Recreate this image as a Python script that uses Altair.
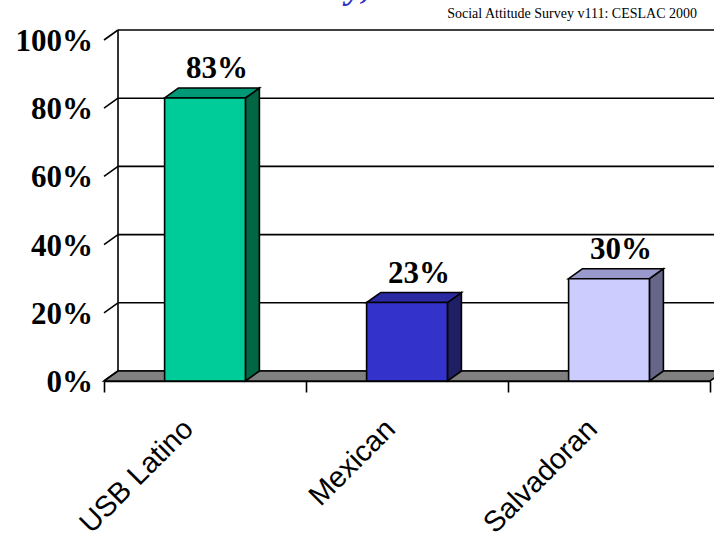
import altair as alt
import pandas as pd

# ---- data ----
categories = ["USB Latino", "Mexican", "Salvadoran"]
values = [83, 23, 30]
value_labels = ["83%", "23%", "30%"]
y_ticks = [0, 20, 40, 60, 80, 100]
y_tick_labels = ["0%", "20%", "40%", "60%", "80%", "100%"]
title_text = "Ethnicity,"
subtitle_text = "Social Attitude Survey v111: CESLAC 2000"

# ---- styles ----
front_colors = ["#00CC99", "#3333CC", "#CCCCFF"]
top_colors = ["#009977", "#2A2AA3", "#9999CC"]
side_colors = ["#006644", "#1F1F66", "#666688"]
floor_color = "#808080"

W, H = 606, 341
N = len(categories)
DX = 14 * N / W          # 3-D depth expressed in x-scale units
DY = 10 * 100 / H        # 3-D depth expressed in y-scale units
BAR = 0.4                # bar width as a fraction of the band
LEFT = (1 - BAR) / 2

xq = alt.Scale(domain=[0, N], nice=False, zero=False)
yq = alt.Scale(domain=[0, 100], nice=False, zero=False)
xb = alt.Scale(domain=categories, paddingInner=0, paddingOuter=0)

# ---- derived tables ----
front = pd.DataFrame({"cat": categories, "value": values, "label": value_labels, "fill": front_colors})
ylab = pd.DataFrame({"v": y_ticks, "t": y_tick_labels})

side_rows, top_rows = [], []
for i, (c, v) in enumerate(zip(categories, values)):
    r = i + LEFT + BAR
    l = i + LEFT
    side_rows += [
        {"cat": c, "x": r, "y": 0, "y2": v, "fill": side_colors[i]},
        {"cat": c, "x": r + DX, "y": DY, "y2": v + DY, "fill": side_colors[i]},
    ]
    top_rows += [
        {"cat": c, "y": v, "x": l, "x2": r, "fill": top_colors[i]},
        {"cat": c, "y": v + DY, "x": l + DX, "x2": r + DX, "fill": top_colors[i]},
    ]
side = pd.DataFrame(side_rows)
top = pd.DataFrame(top_rows)
floor = pd.DataFrame({"y": [0, DY], "x": [0, DX], "x2": [N, N + DX]})
grid = pd.DataFrame({"y": [t + DY for t in y_ticks], "x": DX, "x2": N + 0.2})
conn = pd.DataFrame({"y": y_ticks, "y2": [t + DY for t in y_ticks], "x": 0, "x2": DX})
wall = pd.DataFrame({"x": [DX], "y": [DY], "y2": [100 + DY]})

LW = 1.6

grid_layer = alt.Chart(grid).mark_rule(color="black", strokeWidth=LW).encode(
    x=alt.X("x:Q", scale=xq, axis=None), x2="x2", y=alt.Y("y:Q", scale=yq, axis=None))
conn_layer = alt.Chart(conn).mark_rule(color="black", strokeWidth=LW).encode(
    x=alt.X("x:Q", scale=xq, axis=None), x2="x2", y=alt.Y("y:Q", scale=yq, axis=None), y2="y2")
wall_layer = alt.Chart(wall).mark_rule(color="black", strokeWidth=LW).encode(
    x=alt.X("x:Q", scale=xq, axis=None), y=alt.Y("y:Q", scale=yq, axis=None), y2="y2")
floor_layer = alt.Chart(floor).mark_area(
    orient="horizontal", color=floor_color, stroke="black", strokeWidth=LW, opacity=1
).encode(x=alt.X("x:Q", scale=xq, axis=None), x2="x2", y=alt.Y("y:Q", scale=yq, axis=None))
side_layer = alt.Chart(side).mark_area(
    orient="vertical", stroke="black", strokeWidth=LW, opacity=1
).encode(x=alt.X("x:Q", scale=xq, axis=None), y=alt.Y("y:Q", scale=yq, axis=None), y2="y2",
         detail="cat:N", fill=alt.Fill("fill:N", scale=None))
top_layer = alt.Chart(top).mark_area(
    orient="horizontal", stroke="black", strokeWidth=LW, opacity=1
).encode(x=alt.X("x:Q", scale=xq, axis=None), x2="x2", y=alt.Y("y:Q", scale=yq, axis=None),
         detail="cat:N", fill=alt.Fill("fill:N", scale=None))

front_layer = alt.Chart(front).mark_bar(
    width={"band": BAR}, stroke="black", strokeWidth=LW, opacity=1
).encode(
    x=alt.X("cat:N", scale=xb, sort=categories, axis=alt.Axis(
        title=None, labelAngle=315, labelAlign="right", labelBaseline="middle",
        labelFont="Liberation Sans", labelFontSize=29, labelColor="black",
        labelPadding=32, labelOffset=-17, labelOverlap=False, labelLimit=600,
        labelBound=False, labelFlush=False,
        tickBand="extent", tickSize=11, tickColor="black", tickWidth=LW,
        domainColor="black", domainWidth=LW, grid=False)),
    y=alt.Y("value:Q", scale=yq, axis=alt.Axis(
        values=y_ticks, labels=False, title=None, grid=False,
        tickSize=6, tickColor="black", tickWidth=LW,
        domainColor="black", domainWidth=LW)),
    fill=alt.Fill("fill:N", scale=None),
)
ylab_layer = alt.Chart(ylab).mark_text(
    font="Liberation Serif", fontWeight="bold", fontSize=31, color="black",
    align="right", baseline="middle", dy=2
).encode(x=alt.value(-11), y=alt.Y("v:Q", scale=yq, axis=None), text="t:N")

label_layer = alt.Chart(front).mark_text(
    font="Liberation Serif", fontWeight="bold", fontSize=31, color="black",
    dx=12, dy=-20, baseline="alphabetic", align="center"
).encode(x=alt.X("cat:N", scale=xb, sort=categories, axis=None),
         y=alt.Y("value:Q", scale=yq, axis=None), text="label:N")

title_layer = alt.Chart(pd.DataFrame({"t": [title_text]})).mark_text(
    font="Liberation Serif", fontWeight="bold", fontStyle="italic", fontSize=36,
    color="#3333CC", align="right", baseline="alphabetic"
).encode(x=alt.value(266), y=alt.value(-42), text="t:N")
subtitle_layer = alt.Chart(pd.DataFrame({"t": [subtitle_text]})).mark_text(
    font="Liberation Serif", fontSize=14, color="black", align="right", baseline="alphabetic"
).encode(x=alt.value(593), y=alt.value(-22), text="t:N")

chart = alt.layer(
    grid_layer, conn_layer, wall_layer, floor_layer, side_layer, top_layer,
    front_layer, ylab_layer, label_layer, title_layer, subtitle_layer
).resolve_scale(x="independent").properties(
    width=W, height=H,
    autosize=alt.AutoSizeParams(type="none"),
    padding={"left": 104, "top": 40, "right": 4, "bottom": 154},
    background="white",
).configure_view(stroke=None)

chart.save("out.html", embed_options={"renderer": "svg", "actions": False})
